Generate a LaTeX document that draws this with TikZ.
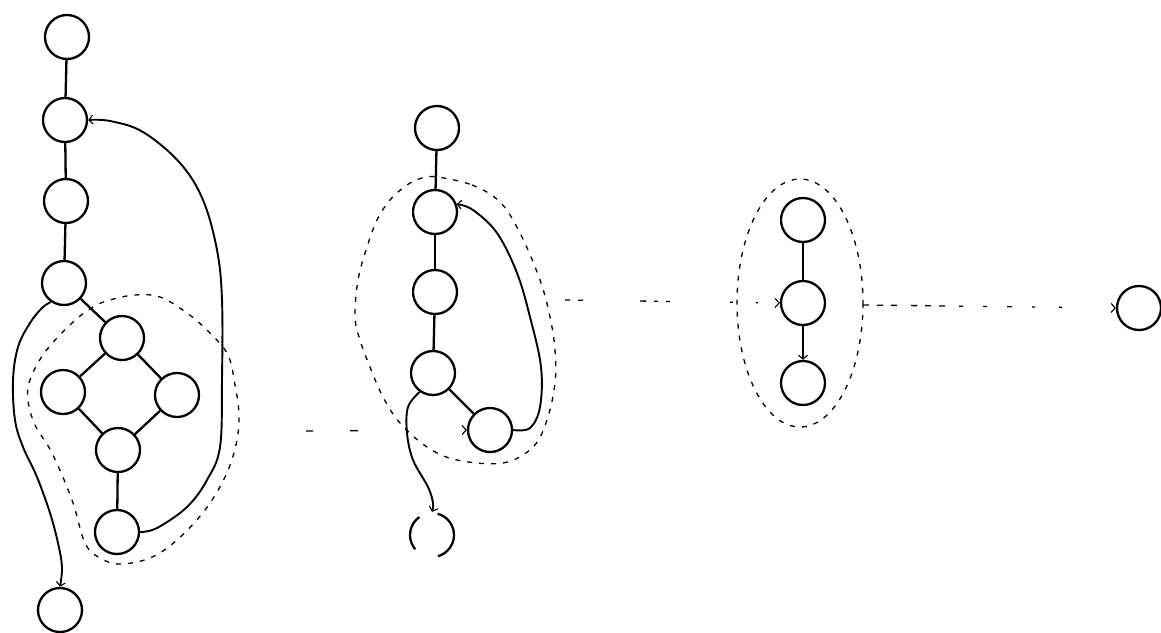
\documentclass[tikz,border=0pt]{standalone}
\usetikzlibrary{arrows.meta}
\begin{document}
\begin{tikzpicture}[x=1pt,y=-1pt,
  vtx/.style={circle,draw,line width=2.3pt,minimum size=44pt,inner sep=0pt},
  edge/.style={line width=2.3pt},
  curv/.style={line width=1.9pt},
  tip/.style={-{Straight Barb[length=4pt,width=9pt,line width=1.1pt]}},
  blob/.style={line width=1.3pt,dash pattern=on 5pt off 7pt},
  link/.style={line width=1.3pt}]
\useasboundingbox (0,0) rectangle (1161,632);
% left graph
\node[vtx] (a1) at (67,37) {};
\node[vtx] (a2) at (65,120) {};
\node[vtx] (a3) at (66,201) {};
\node[vtx] (a4) at (64,283) {};
\node[vtx] (bt) at (122,338) {};
\node[vtx] (bl) at (63,392) {};
\node[vtx] (br) at (177,395) {};
\node[vtx] (bb) at (118,450) {};
\node[vtx] (c) at (117,532) {};
\node[vtx] (d) at (60,610) {};
% middle graph
\node[vtx] (m1) at (437,128) {};
\node[vtx] (m2) at (435,212) {};
\node[vtx] (m3) at (435,292) {};
\node[vtx] (m4) at (433,373) {};
\node[vtx] (m5) at (490,430) {};
\node[vtx,dash pattern=on 28.8pt off 19.2pt on 36.5pt off 25pt on 28.8pt off 0pt] (m6) at (432,535) {};
% right graph
\node[vtx] (r1) at (803,220) {};
\node[vtx] (r2) at (803,303) {};
\node[vtx] (r3) at (803,383) {};
\node[vtx] (f) at (1139,308) {};
% solid edges
\draw[edge] (a1) -- (a2);
\draw[edge] (a2) -- (a3);
\draw[edge] (a3) -- (a4);
\draw[edge] (a4) -- (bt);
\draw[edge] (bt) -- (bl);
\draw[edge] (bt) -- (br);
\draw[edge] (bl) -- (bb);
\draw[edge] (br) -- (bb);
\draw[edge] (bb) -- (c);
\draw[edge] (m1) -- (m2);
\draw[edge] (m2) -- (m3);
\draw[edge] (m3) -- (m4);
\draw[edge] (m4) -- (m5);
\draw[edge] (r1) -- (r2);
\draw[edge,tip] (r2) -- (r3);
% curved arrows
\draw[curv,tip] plot[smooth,tension=0.6] coordinates {(c.east) (157,528) (187,507) (207,480) (220,447) (222,380) (222,300) (217,250) (203,200) (180,163) (143,132) (110,121) (a2.east)};
\draw[curv,tip] plot[smooth,tension=0.6] coordinates {(a4.235) (42,308) (30,323) (18,347) (13,380) (15,420) (23,447) (37,477) (50,513) (58,543) (62,567) (d.north)};
\draw[curv,tip] plot[smooth,tension=0.6] coordinates {(m5.east) (530,428) (540,407) (541,367) (530,317) (517,273) (497,233) (473,210) (m2.20)};
\draw[curv,tip] plot[smooth,tension=0.6] coordinates {(m4.235) (408,407) (407,433) (413,460) (428,487) (433,503) (m6.north)};
% blobs
\draw[blob] plot[smooth cycle,tension=0.6] coordinates {(110,300) (93,307) (72,323) (45,352) (30,380) (28,400) (35,425) (52,453) (72,500) (85,543) (100,558) (120,564) (150,558) (177,540) (205,510) (225,477) (236,445) (239,415) (235,385) (228,355) (210,333) (187,313) (160,297) (135,295)};
\draw[blob] plot[smooth cycle,tension=0.6] coordinates {(437,177) (472,185) (500,202) (520,233) (540,280) (550,317) (555,350) (555,383) (547,420) (533,447) (503,463) (457,460) (427,447) (400,423) (383,397) (370,367) (360,340) (355,317) (358,280) (367,247) (377,220) (390,200) (407,185) (422,178)};
\draw[blob] (800,303) ellipse [x radius=63, y radius=124];
% dashed links
\coordinate (l1) at (306,431);
\coordinate (l2) at (565,300);
\coordinate (l3) at (863,305);
\draw[link,tip,dash pattern=on 7pt off 37pt on 8pt off 300pt] (l1) -- (m5.west);
\draw[link,tip,dash pattern=on 5pt off 8pt on 5pt off 57pt on 6pt off 8pt on 4pt off 8pt on 4pt off 60pt on 3pt off 23pt on 2pt off 100pt] (l2) -- (r2.west);
\draw[link,tip,dash pattern=on 6pt off 8pt on 6pt off 8pt on 6pt off 14pt on 6pt off 8pt on 6pt off 8pt on 6pt off 14pt on 4pt off 20pt on 4pt off 20pt on 5pt off 20pt on 3pt off 24pt on 3pt off 80pt] (l3) -- (f.west);
\end{tikzpicture}
\end{document}
